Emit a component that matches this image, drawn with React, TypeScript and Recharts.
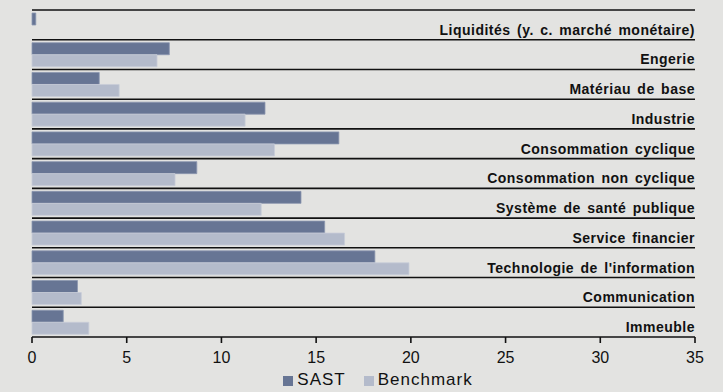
import { BarChart, Bar, XAxis, YAxis, Legend } from "recharts";

const sectors = [
  "Liquidités (y. c. marché monétaire)",
  "Engerie",
  "Matériau de base",
  "Industrie",
  "Consommation cyclique",
  "Consommation non cyclique",
  "Système de santé publique",
  "Service financier",
  "Technologie de l'information",
  "Communication",
  "Immeuble",
];
const sast = [0.2, 7.25, 3.55, 12.3, 16.2, 8.7, 14.2, 15.45, 18.1, 2.4, 1.65];
const benchmark = [0, 6.6, 4.6, 11.25, 12.8, 7.55, 12.1, 16.5, 19.9, 2.6, 3.0];
const xTicks = [0, 5, 10, 15, 20, 25, 30, 35];

const data = sectors.map((s, i) => ({
  sector: s,
  sast: sast[i],
  benchmark: benchmark[i],
}));

const W = 723;
const H = 392;
const margin = { top: 10, right: 28, left: 31, bottom: 0 };
const plotLeft = 32;
const plotRight = W - margin.right;
const plotH = 327;
const band = plotH / sectors.length;
const font = "Liberation Sans, Arial, sans-serif";

const renderSectorTick = (props: any) => {
  const { y, payload } = props;
  const top = y - band / 2;
  return (
    <g>
      <line x1={plotLeft} x2={plotRight} y1={top} y2={top} stroke="#111" strokeWidth={1.6} />
      <text
        x={plotRight}
        y={y + band / 2 - 5}
        textAnchor="end"
        fontSize={14}
        fontWeight="bold"
        fill="#111"
        letterSpacing={0.5}
        wordSpacing={2}
        fontFamily={font}
      >
        {payload.value}
      </text>
    </g>
  );
};

export default function App() {
  return (
    <div style={{ position: "absolute", left: 0, top: 0, width: W, height: H, background: "#e3e3e1" }}>
      <BarChart
        width={W}
        height={H}
        data={data}
        layout="vertical"
        margin={margin}
        barCategoryGap={3}
        barGap={0}
        style={{ fontFamily: font }}
      >
        <XAxis
          type="number"
          domain={[0, 35]}
          ticks={xTicks}
          height={30}
          axisLine={{ stroke: "#111", strokeWidth: 1.6 }}
          tickLine={{ stroke: "#111", strokeWidth: 1.6 }}
          tickSize={6}
          tickMargin={9}
          tick={{ fill: "#111", fontSize: 16 }}
          interval={0}
        />
        <YAxis
          type="category"
          dataKey="sector"
          width={1}
          axisLine={false}
          tickLine={false}
          tick={renderSectorTick}
          interval={0}
        />
        <Legend
          height={25}
          verticalAlign="bottom"
          iconType="square"
          iconSize={10}
          itemSorter={(item: any) => (item.value === "SAST" ? 0 : 1)}
          wrapperStyle={{ fontSize: 17, color: "#111", paddingLeft: 20, bottom: -3 }}
          formatter={(v: string) => (
            <span style={{ color: "#111", letterSpacing: 1, marginRight: v === "SAST" ? 8 : 0 }}>{v}</span>
          )}
        />
        <Bar dataKey="sast" name="SAST" fill="#677594" stroke="#8c97b0" strokeWidth={0.8} isAnimationActive={false} />
        <Bar dataKey="benchmark" name="Benchmark" fill="#b4bbcb" stroke="#c8cdd8" strokeWidth={0.8} isAnimationActive={false} />
      </BarChart>
    </div>
  );
}
